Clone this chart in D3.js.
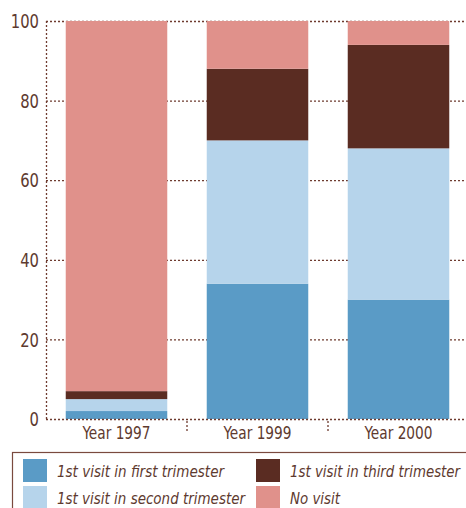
<!DOCTYPE html>
<html><head><meta charset="utf-8">
<script src="https://cdn.jsdelivr.net/npm/d3@7"></script>
<style>
body{margin:0;background:#fff;}
svg{display:block;font-family:"DejaVu Sans",sans-serif;font-stretch:condensed;}
</style></head>
<body><svg id="c" width="466" height="508"></svg>
<script>
const categories = ["Year 1997", "Year 1999", "Year 2000"];
const seriesNames = ["1st visit in first trimester", "1st visit in second trimester", "1st visit in third trimester", "No visit"];
const firstTrimester = [2, 34, 30];
const secondTrimester = [3, 36, 38];
const thirdTrimester = [2, 18, 26];
const noVisit = [93, 12, 6];
const yTicks = [0, 20, 40, 60, 80, 100];
const colors = ["#5a9bc6", "#b6d4eb", "#5a2c22", "#e0918b"];

const textColor = "#5e3a2f";
const gridColor = "#6e3b2f";
const svg = d3.select("#c");
const m = {l: 46, r: 469, t: 21, b: 419};

const rows = categories.map((c, i) => ({cat: c, s0: firstTrimester[i], s1: secondTrimester[i], s2: thirdTrimester[i], s3: noVisit[i]}));
const stack = d3.stack().keys(["s0", "s1", "s2", "s3"])(rows);

const x = d3.scaleBand().domain(categories).range([m.l, m.r]).paddingInner(0.28).paddingOuter(0.14);
const y = d3.scaleLinear().domain([0, 100]).range([m.b, m.t]);

// grid
svg.append("g").selectAll("line").data(yTicks.filter(d => d > 0)).join("line")
  .attr("x1", m.l).attr("x2", 466).attr("y1", d => y(d) + 0.5).attr("y2", d => y(d) + 0.5)
  .attr("stroke", gridColor).attr("stroke-width", 1.3).attr("stroke-dasharray", "2,2");

// bars
svg.append("g").selectAll("g").data(stack).join("g").attr("fill", (d, i) => colors[i])
  .selectAll("rect").data(d => d).join("rect")
  .attr("x", d => x(d.data.cat)).attr("width", x.bandwidth())
  .attr("y", d => y(d[1])).attr("height", d => y(d[0]) - y(d[1]));

// axes lines
svg.append("line").attr("x1", m.l + 0.5).attr("x2", m.l + 0.5).attr("y1", y(100)).attr("y2", y(0))
  .attr("stroke", gridColor).attr("stroke-width", 1.3).attr("stroke-dasharray", "2,2");
svg.append("line").attr("x1", m.l).attr("x2", 466).attr("y1", y(0) + 0.5).attr("y2", y(0) + 0.5)
  .attr("stroke", gridColor).attr("stroke-width", 1.3).attr("stroke-dasharray", "2,2");

// category separator ticks
const step = x.step();
const seps = categories.slice(1).map(c => x(c) - x.paddingInner() * step / 2);
svg.append("g").selectAll("line").data(seps).join("line")
  .attr("x1", d => d).attr("x2", d => d).attr("y1", y(0) + 2).attr("y2", y(0) + 12)
  .attr("stroke", gridColor).attr("stroke-width", 1.3).attr("stroke-dasharray", "2,2");

// y labels
svg.append("g").selectAll("text").data(yTicks).join("text")
  .attr("x", 39).attr("y", d => y(d)).attr("dy", "0.36em").attr("text-anchor", "end")
  .attr("fill", textColor).attr("font-size", 20).text(d => d)
  .each(function(d) { const w = String(d).length * 9.4; d3.select(this).attr("textLength", w).attr("lengthAdjust", "spacingAndGlyphs"); });

// x labels
svg.append("g").selectAll("text").data(categories).join("text")
  .attr("x", d => x(d) + x.bandwidth() / 2).attr("y", 439).attr("text-anchor", "middle")
  .attr("fill", textColor).attr("font-size", 18).attr("textLength", 68).attr("lengthAdjust", "spacingAndGlyphs").text(d => d);

// legend
const legWidths = [167, 188, 170, 50];
svg.append("rect").attr("x", 12.5).attr("y", 452.5).attr("width", 470).attr("height", 70)
  .attr("fill", "none").attr("stroke", "#7a4a3e").attr("stroke-width", 1.2);
const legPos = [[23, 459], [23, 486], [256, 459], [256, 486]];
const lg = svg.append("g").selectAll("g").data(seriesNames).join("g")
  .attr("transform", (d, i) => `translate(${legPos[i][0]},${legPos[i][1]})`);
lg.append("rect").attr("width", 24).attr("height", 23).attr("fill", (d, i) => colors[i]);
lg.append("text").attr("x", 34).attr("y", 12).attr("dy", "0.36em")
  .attr("font-style", "italic").attr("font-size", 16).attr("fill", textColor)
  .attr("textLength", (d, i) => legWidths[i]).attr("lengthAdjust", "spacingAndGlyphs").text(d => d);
</script></body></html>
